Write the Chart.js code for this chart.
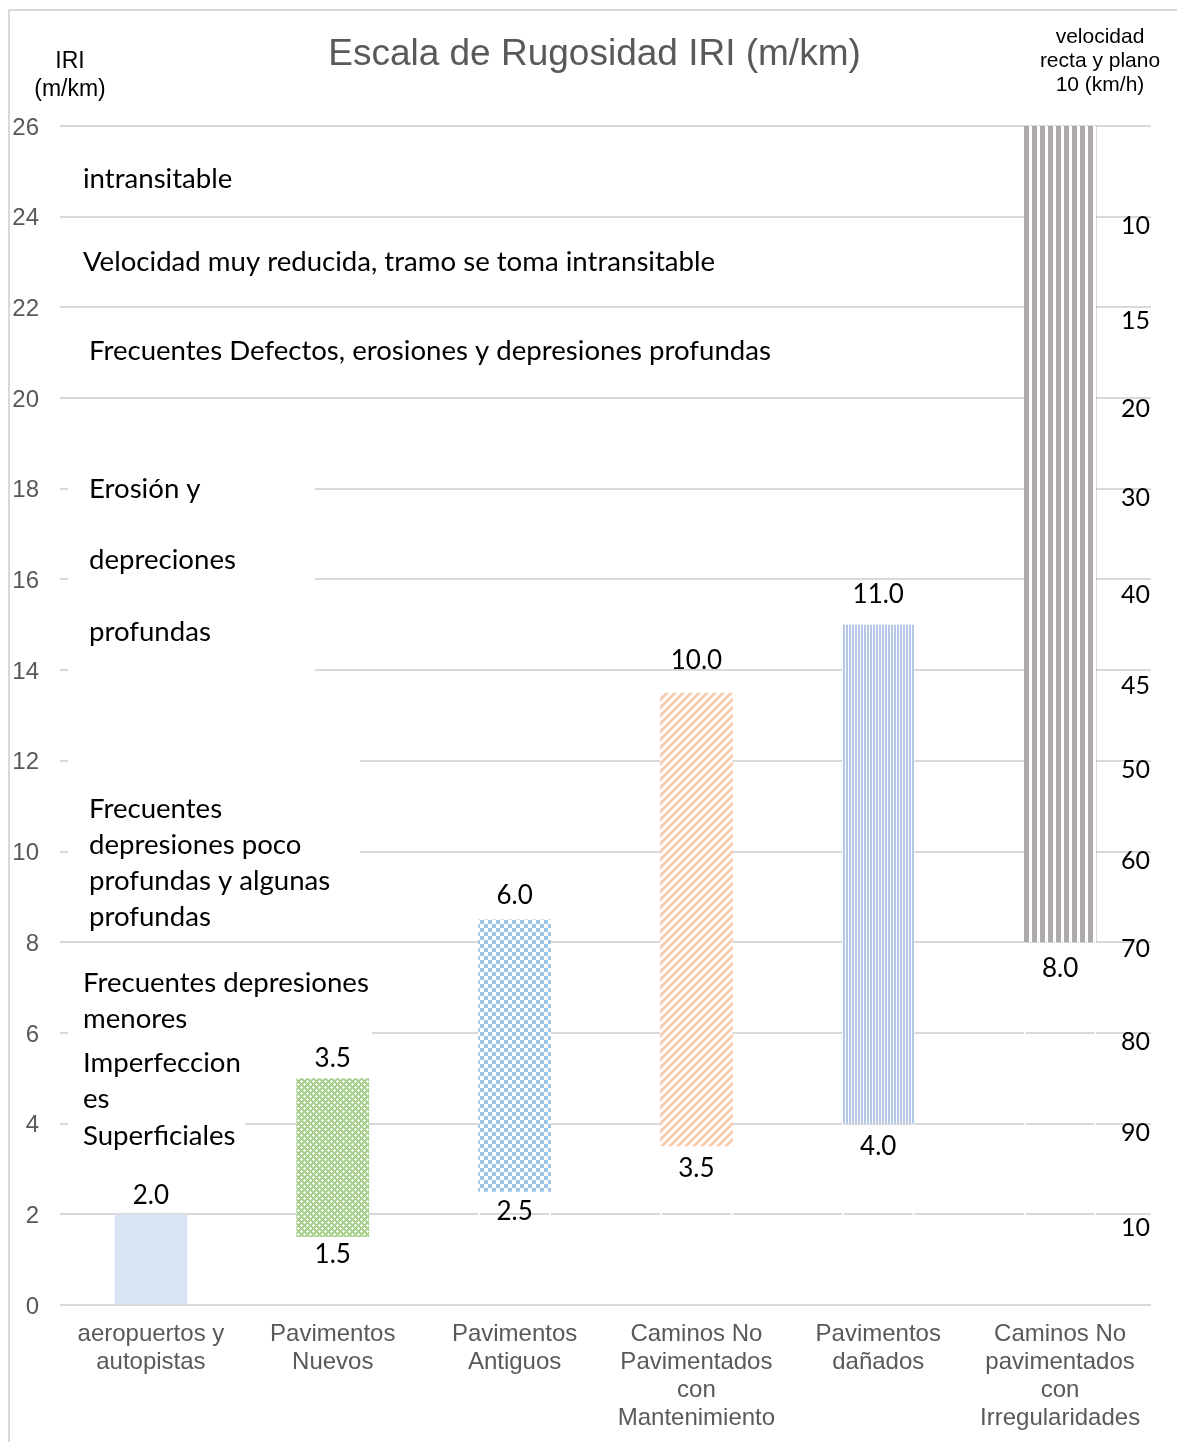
<!DOCTYPE html>
<html lang="es">
<head>
<meta charset="utf-8">
<title>Escala de Rugosidad IRI</title>
<script src="https://cdn.jsdelivr.net/npm/chart.js@4.4.1/dist/chart.umd.min.js"></script>
<style>
  html, body { margin: 0; padding: 0; background: #fff; }
  canvas { display: block; }
</style>
</head>
<body>
<canvas id="grafico" width="1177" height="1442"></canvas>
<script>
// tipos de vía (eje x)
const tiposVia = [
  ['aeropuertos y', 'autopistas'],
  ['Pavimentos', 'Nuevos'],
  ['Pavimentos', 'Antiguos'],
  ['Caminos No', 'Pavimentados', 'con', 'Mantenimiento'],
  ['Pavimentos', 'dañados'],
  ['Caminos No', 'pavimentados', 'con', 'Irregularidades']
]

// IRI donde empieza cada rango (serie invisible)
const iriInicio = [0, 1.5, 2.5, 3.5, 4.0, 8.0]
// amplitud del rango de IRI (serie visible)
const iriRango = [2.0, 3.5, 6.0, 10.0, 11.0, 18.0]

// eje IRI
const iriMin = 0
const iriMax = 26
const iriPaso = 2

// velocidades (km/h) a la derecha y el IRI al que corresponde cada una
const velocidades = ['10', '15', '20', '30', '40', '45', '50', '60', '70', '80', '90', '10']
const velocidadIRI = [23.8, 21.7, 19.75, 17.8, 15.65, 13.65, 11.8, 9.8, 7.85, 5.8, 3.8, 1.7]

// descripción de cada franja de rugosidad
const descripciones = [
  ['intransitable'],
  ['Velocidad muy reducida, tramo se toma intransitable'],
  ['Frecuentes Defectos, erosiones y depresiones profundas'],
  ['Erosión y', 'depreciones', 'profundas'],
  ['Frecuentes', 'depresiones poco', 'profundas y algunas', 'profundas'],
  ['Frecuentes depresiones', 'menores'],
  ['Imperfeccion', 'es', 'Superficiales']
]

// dónde va cada descripción: x, IRI de la 1a línea, interlineado, tapa blanca [x derecha, IRI sup, IRI inf]
const bloques = [
  { x: 83, iri: 24.83, paso: 0 },
  { x: 83, iri: 23.0, paso: 0 },
  { x: 89, iri: 21.04, paso: 0 },
  { x: 89, iri: 18.0, paso: 71.5, fondo: [315, 18.7, 13.5] },
  { x: 89, iri: 10.94, paso: 36, fondo: [360, 12.4, 8.3] },
  { x: 83, iri: 7.10, paso: 36, fondo: [372, 7.6, 5.75] },
  { x: 83, iri: 5.34, paso: 36.5, fondo: [245, 5.7, 3.3] }
]

// separación (px) de las etiquetas de valor respecto a la barra
const separacionArriba = [19, 20, 24, 32, 30, 24]
const separacionAbajo = [22, 18, 20, 22, 23, 26]

const fuenteArial = "'Liberation Sans', Arial, sans-serif"
const fuenteTexto = "Lato, 'Open Sans', sans-serif"

// tramas de relleno
function trama(w, h, dibujar) {
  const c = document.createElement('canvas')
  c.width = w
  c.height = h
  const g = c.getContext('2d')
  g.fillStyle = '#ffffff'
  g.fillRect(0, 0, w, h)
  dibujar(g)
  return g.createPattern(c, 'repeat')
}

const tramaVerde = trama(6, 6, g => {
  g.fillStyle = '#a9d18e'
  g.fillRect(0, 0, 6, 6)
  g.fillStyle = '#ffffff'
  ;[[1, 1], [4, 4]].forEach(([x, y]) => {
    g.fillRect(x - 1, y, 3, 1)
    g.fillRect(x, y - 1, 1, 3)
  })
})

const tramaAjedrez = trama(8, 8, g => {
  g.fillStyle = '#9dc3e6'
  g.fillRect(0, 0, 4, 4)
  g.fillRect(4, 4, 4, 4)
})

const tramaDiagonal = trama(8, 8, g => {
  g.strokeStyle = '#f8cbad'
  g.lineWidth = 3
  for (const k of [-8, 0, 8]) {
    g.beginPath()
    g.moveTo(k - 2, 10)
    g.lineTo(k + 10, -2)
    g.stroke()
  }
})

const tramaRayasFinas = trama(3, 4, g => {
  g.fillStyle = '#b4c7e7'
  g.fillRect(0, 0, 2, 4)
})

const tramaRayasGris = trama(8, 4, g => {
  g.fillStyle = '#aeaaaa'
  g.fillRect(0, 0, 5, 4)
})

const rellenos = ['#dae3f3', tramaVerde, tramaAjedrez, tramaDiagonal, tramaRayasFinas, tramaRayasGris]

// textos, etiquetas de datos y tapas blancas
const textos = {
  id: 'textos',
  beforeDraw(chart) {
    const ctx = chart.ctx
    ctx.save()
    ctx.strokeStyle = '#d9d9d9'
    ctx.lineWidth = 2
    ctx.strokeRect(9, 10, chart.width + 20, chart.height + 20)
    ctx.restore()
  },
  beforeDatasetsDraw(chart) {
    const { ctx, chartArea, scales: { y } } = chart
    ctx.save()
    ctx.fillStyle = '#ffffff'
    bloques.forEach(b => {
      if (!b.fondo) return
      const [der, sup, inf] = b.fondo
      const y1 = y.getPixelForValue(sup)
      const y2 = y.getPixelForValue(inf)
      ctx.fillRect(chartArea.left + 8, y1, der - chartArea.left - 8, y2 - y1)
    })
    ctx.restore()
  },
  afterDatasetsDraw(chart) {
    const { ctx, chartArea, scales: { y } } = chart
    ctx.save()
    ctx.fillStyle = '#000000'
    ctx.textBaseline = 'middle'

    // descripciones
    ctx.font = '27.6px ' + fuenteTexto
    ctx.textAlign = 'left'
    descripciones.forEach((lineas, i) => {
      const b = bloques[i]
      const y0 = y.getPixelForValue(b.iri)
      lineas.forEach((t, j) => ctx.fillText(t, b.x, y0 + j * b.paso))
    })

    // valores: amplitud arriba, inicio abajo
    ctx.font = '26px ' + fuenteTexto
    ctx.textAlign = 'center'
    const barras = chart.getDatasetMeta(1).data
    barras.forEach((bar, i) => {
      if (bar.y > chartArea.top + 1) ctx.fillText(iriRango[i].toFixed(1), bar.x, bar.y - separacionArriba[i])
      if (iriInicio[i] > 0) ctx.fillText(iriInicio[i].toFixed(1), bar.x, bar.base + separacionAbajo[i])
    })
    ctx.restore()
  },
  afterDraw(chart) {
    const ctx = chart.ctx
    ctx.save()
    ctx.fillStyle = '#000000'
    ctx.textAlign = 'center'
    ctx.textBaseline = 'middle'
    ctx.font = '23px ' + fuenteArial
    ctx.fillText('IRI', 70, 62)
    ctx.fillText('(m/km)', 70, 90)
    ctx.font = '21px ' + fuenteArial
    ctx.fillText('velocidad', 1100, 37)
    ctx.fillText('recta y plano', 1100, 61)
    ctx.fillText('10 (km/h)', 1100, 85)
    ctx.restore()
  }
}

new Chart(document.getElementById('grafico'), {
  type: 'bar',
  data: {
    labels: tiposVia,
    datasets: [
      {
        label: 'inicio',
        data: iriInicio,
        backgroundColor: 'rgba(0,0,0,0)',
        borderColor: '#ffffff',
        borderWidth: { left: 2, right: 2, top: 0, bottom: 0 },
        borderSkipped: false,
        yAxisID: 'y'
      },
      {
        label: 'rango',
        data: iriRango,
        backgroundColor: rellenos,
        borderWidth: 0,
        yAxisID: 'y'
      }
    ]
  },
  options: {
    responsive: false,
    animation: false,
    devicePixelRatio: 1,
    layout: { padding: { left: 12, right: 0, top: 0, bottom: 0 } },
    datasets: { bar: { categoryPercentage: 1, barPercentage: 0.4 } },
    plugins: {
      legend: { display: false },
      tooltip: { enabled: false },
      title: {
        display: true,
        text: 'Escala de Rugosidad IRI (m/km)',
        color: '#595959',
        font: { family: fuenteArial, size: 37, weight: 'normal', lineHeight: 1.2 },
        padding: { top: 33, bottom: 48.6 }
      }
    },
    scales: {
      x: {
        stacked: true,
        grid: { display: false },
        border: { display: false },
        ticks: {
          color: '#595959',
          font: { family: fuenteArial, size: 24, lineHeight: 1.154 },
          padding: 8,
          maxRotation: 0,
          autoSkip: false
        },
        afterFit: s => { s.height = 137 }
      },
      y: {
        stacked: true,
        min: iriMin,
        max: iriMax,
        grid: { color: '#d9d9d9', lineWidth: 2, drawTicks: false },
        border: { display: false },
        ticks: {
          stepSize: iriPaso,
          color: '#595959',
          font: { family: fuenteArial, size: 24 },
          padding: 21,
          labelOffset: 2
        },
        afterFit: s => { s.width = 48 }
      },
      yVel: {
        position: 'right',
        min: iriMin,
        max: iriMax,
        grid: { display: false },
        border: { display: false },
        ticks: {
          mirror: true,
          padding: -1,
          color: '#000000',
          font: { family: fuenteTexto, size: 25 },
          callback: (v, i) => velocidades[i]
        },
        afterBuildTicks: s => { s.ticks = velocidadIRI.map(v => ({ value: v })) },
        afterFit: s => { s.width = 26 }
      }
    }
  },
  plugins: [textos]
})
</script>
</body>
</html>
